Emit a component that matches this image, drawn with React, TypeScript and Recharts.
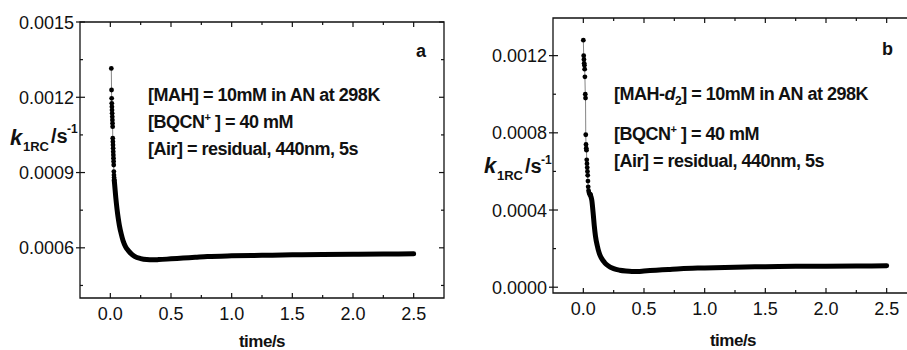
import React from "react";
import { Line, LineChart, ReferenceArea, XAxis, YAxis } from "recharts";

const FONT = "'Liberation Sans', Arial, sans-serif";
const INK = "#111";

// panel a: MAH, sparse early points then the dense band
const earlyTimeA = [0.008, 0.01, 0.011, 0.012, 0.013, 0.014, 0.015, 0.016, 0.017, 0.018, 0.019, 0.02, 0.021, 0.022, 0.023, 0.024, 0.025, 0.026, 0.027, 0.028, 0.029, 0.03, 0.031, 0.032];
const earlyRateA = [0.001315, 0.001229, 0.001196, 0.001176, 0.001162, 0.001149, 0.001136, 0.001122, 0.001109, 0.001096, 0.001083, 0.001037, 0.001023, 0.00101, 0.000997, 0.000983, 0.00097, 0.000957, 0.000944, 0.00093, 0.000904, 0.00089, 0.00088, 0.00087];
const bandTimeA = [0.032, 0.035, 0.045, 0.055, 0.065, 0.075, 0.09, 0.105, 0.125, 0.15, 0.175, 0.2, 0.25, 0.3, 0.35, 0.4, 0.5, 0.6, 0.7, 0.8, 1.0, 1.25, 1.5, 1.75, 2.0, 2.25, 2.5];
const bandRateA = [0.00087, 0.000855, 0.0008, 0.000755, 0.000718, 0.000688, 0.000655, 0.000628, 0.000605, 0.000588, 0.000575, 0.000566, 0.000557, 0.000553, 0.000552, 0.000553, 0.000556, 0.000559, 0.000562, 0.000565, 0.000568, 0.00057, 0.000572, 0.000573, 0.000574, 0.000575, 0.000576];

// panel b: MAH-d2
const earlyTimeB = [0.0, 0.003, 0.005, 0.007, 0.009, 0.011, 0.013, 0.016, 0.018, 0.02, 0.022, 0.024, 0.026, 0.028, 0.03, 0.032, 0.034, 0.036, 0.038, 0.04, 0.043, 0.047, 0.052, 0.058];
const earlyRateB = [0.00128, 0.0012, 0.00118, 0.00116, 0.00115, 0.00113, 0.00109, 0.001, 0.00098, 0.00079, 0.00074, 0.00072, 0.00071, 0.00066, 0.00064, 0.00062, 0.0006, 0.00058, 0.00055, 0.00052, 0.0005, 0.00049, 0.00048, 0.00048];
const bandTimeB = [0.058, 0.06, 0.07, 0.08, 0.09, 0.1, 0.115, 0.13, 0.15, 0.175, 0.2, 0.25, 0.3, 0.35, 0.4, 0.45, 0.5, 0.6, 0.7, 0.8, 1.0, 1.25, 1.5, 1.75, 2.0, 2.25, 2.5];
const bandRateB = [0.00048, 0.000475, 0.00045, 0.00039, 0.00032, 0.000265, 0.000215, 0.000178, 0.00015, 0.000128, 0.000113, 0.000096, 0.000088, 0.000084, 0.000082, 0.000082, 0.000084, 0.000088, 0.000092, 0.000096, 0.0001, 0.000104, 0.000106, 0.000108, 0.000109, 0.00011, 0.000111];

const xMajor = [0, 0.5, 1.0, 1.5, 2.0, 2.5];
const xMinor = [0.25, 0.75, 1.25, 1.75, 2.25];
const yMajorA = [0.0006, 0.0009, 0.0012, 0.0015];
const yMinorA = [0.00045, 0.00075, 0.00105, 0.00135];
const yMajorB = [0, 0.0004, 0.0008, 0.0012];
const yMinorB = [0.0002, 0.0006, 0.001];

const pair = (ts: number[], ks: number[]) => ts.map((t, i) => ({ t, k: ks[i] }));
const isMajor = (v: number, majors: number[]) => majors.some((m) => Math.abs(m - v) < 1e-9);

const xTick = (plotTop: number) => (props: any) => {
  const { x, y, payload } = props;
  const v = Number(payload.value);
  const major = isMajor(v, xMajor);
  const len = major ? 5 : 3;
  return <g>
    <line x1={x} x2={x} y1={y} y2={y - len} stroke={INK} strokeWidth={1.2} />
    <line x1={x} x2={x} y1={plotTop} y2={plotTop + len} stroke={INK} strokeWidth={1.2} />
    {major && <text x={x} y={y + 22} textAnchor="middle" fontSize={18} fontFamily={FONT} fill={INK}>{v.toFixed(1)}</text>}
  </g>;
};

const yTick = (majors: number[], plotRight: number) => (props: any) => {
  const { x, y, payload } = props;
  const v = Number(payload.value);
  const major = isMajor(v, majors);
  return <g>
    {major ? <line x1={x - 4} x2={x + 5} y1={y} y2={y} stroke={INK} strokeWidth={1.2} />
      : <line x1={x} x2={x + 3} y1={y} y2={y} stroke={INK} strokeWidth={1.2} />}
    <line x1={plotRight} x2={plotRight - (major ? 5 : 3)} y1={y} y2={y} stroke={INK} strokeWidth={1.2} />
    {major && <text x={x - 6} y={y + 6.5} textAnchor="end" fontSize={18} fontFamily={FONT} fill={INK}>{v.toFixed(4)}</text>}
  </g>;
};

function Panel({ early, band, yDomain, yMajor, yMinor, axisWidth, top, xHeight }: {
  early: { t: number; k: number }[]; band: { t: number; k: number }[]; yDomain: [number, number];
  yMajor: number[]; yMinor: number[]; axisWidth: number; top: number; xHeight: number;
}) {
  const plotW = 364;
  return <LineChart width={axisWidth + plotW + 10} height={350} margin={{ top, right: 10, bottom: 0, left: 0 }}>
    <XAxis type="number" dataKey="t" domain={[-0.25, 2.75]} allowDataOverflow ticks={[...xMajor, ...xMinor]} interval={0}
      height={xHeight} tickSize={0} tickMargin={0} tickLine={false} axisLine={false} tick={xTick(top)} />
    <YAxis type="number" domain={yDomain} allowDataOverflow ticks={[...yMajor, ...yMinor]} interval={0}
      width={axisWidth} tickSize={0} tickMargin={0} tickLine={false} axisLine={false} tick={yTick(yMajor, axisWidth + plotW)} />
    <ReferenceArea x1={-0.25} x2={2.75} y1={yDomain[0]} y2={yDomain[1]} fill="none" stroke={INK} strokeWidth={1.3} ifOverflow="visible" />
    <Line data={band} dataKey="k" type="monotone" stroke="#000" strokeWidth={5} strokeLinecap="round" strokeLinejoin="round" dot={false} isAnimationActive={false} />
    <Line data={early} dataKey="k" type="linear" stroke="#666" strokeWidth={0.8} dot={{ r: 2.4, fill: "#000", stroke: "none" }} isAnimationActive={false} />
  </LineChart>;
}

const bold = { fontFamily: FONT, fontWeight: 700, fill: INK } as const;

export default function App() {
  return <div style={{ position: "fixed", left: 0, top: 0, width: 907, height: 350, overflow: "hidden", background: "#fff" }}>
    <div style={{ position: "absolute", left: 0, top: 0 }}>
      <Panel early={pair(earlyTimeA, earlyRateA)} band={pair(bandTimeA, bandRateA)} yDomain={[0.0004, 0.0015]}
        yMajor={yMajorA} yMinor={yMinorA} axisWidth={80} top={22} xHeight={52} />
    </div>
    <div style={{ position: "absolute", left: 455, top: 0 }}>
      <Panel early={pair(earlyTimeB, earlyRateB)} band={pair(bandTimeB, bandRateB)} yDomain={[-0.00003, 0.001395]}
        yMajor={yMajorB} yMinor={yMinorB} axisWidth={98} top={18} xHeight={57} />
    </div>
    <svg width={907} height={350} style={{ position: "absolute", left: 0, top: 0, pointerEvents: "none" }}>
      {/* panel a texts */}
      <text x={10} y={145} fontSize={22} fontStyle="italic" {...bold}>k</text>
      <text x={23} y={151} fontSize={13} {...bold}>1RC</text>
      <text x={51} y={143} fontSize={20} {...bold}>/s</text>
      <text x={67} y={133} fontSize={12} {...bold}>-1</text>
      <text x={148} y={101} fontSize={18} letterSpacing={-0.5} {...bold}>[MAH] = 10mM in AN at 298K</text>
      <text x={148} y={128} fontSize={18} letterSpacing={-0.5} {...bold}>[BQCN<tspan fontSize={11} dy={-7}>+</tspan><tspan dy={7}> ] = 40 mM</tspan></text>
      <text x={148} y={155} fontSize={18} letterSpacing={-0.5} {...bold}>[Air] = residual, 440nm, 5s</text>
      <text x={416} y={57} fontSize={18} {...bold}>a</text>
      <text x={262} y={347} fontSize={17} letterSpacing={-0.5} textAnchor="middle" {...bold}>time/s</text>
      {/* panel b texts */}
      <text x={484} y={173} fontSize={22} fontStyle="italic" {...bold}>k</text>
      <text x={497} y={180} fontSize={13} {...bold}>1RC</text>
      <text x={525} y={173} fontSize={20} {...bold}>/s</text>
      <text x={541} y={164} fontSize={12} {...bold}>-1</text>
      <text x={614} y={100} fontSize={18} letterSpacing={-0.5} {...bold}>[MAH-<tspan fontStyle="italic">d</tspan><tspan fontSize={12} dy={5}>2</tspan><tspan dy={-5}>] = 10mM in AN at 298K</tspan></text>
      <text x={614} y={140} fontSize={18} letterSpacing={-0.5} {...bold}>[BQCN<tspan fontSize={11} dy={-7}>+</tspan><tspan dy={7}> ] = 40 mM</tspan></text>
      <text x={614} y={167} fontSize={18} letterSpacing={-0.5} {...bold}>[Air] = residual, 440nm, 5s</text>
      <text x={882} y={55} fontSize={18} {...bold}>b</text>
      <text x={733} y={346} fontSize={17} letterSpacing={-0.5} textAnchor="middle" {...bold}>time/s</text>
    </svg>
  </div>;
}
